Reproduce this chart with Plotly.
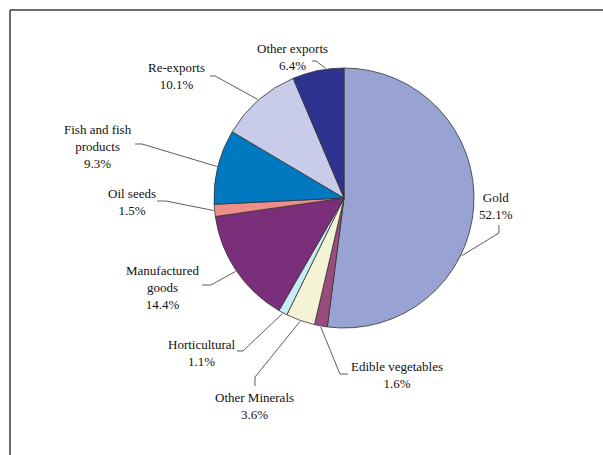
import math
import plotly.graph_objects as go

# Export composition (share of total exports, %)
categories = ["Gold", "Edible vegetables", "Other Minerals", "Horticultural",
              "Manufactured goods", "Oil seeds", "Fish and fish products",
              "Re-exports", "Other exports"]
shares = [52.1, 1.6, 3.6, 1.1, 14.4, 1.5, 9.3, 10.1, 6.4]
label_lines = [["Gold"], ["Edible vegetables"], ["Other Minerals"], ["Horticultural"],
               ["Manufactured", "goods"], ["Oil seeds"], ["Fish and fish", "products"],
               ["Re-exports"], ["Other exports"]]
colors = ["#99a3d3", "#9a4c7c", "#f5f3d6", "#c8ecf4", "#7b2f7a",
          "#ee8d8a", "#0079c1", "#c8cce8", "#2e3390"]

W, H = 603, 455
CX, CY, R = 344, 198, 130  # pie centre and radius in pixels

# label block centres (px) and leader-line elbows: (elbow point, tick end)
label_pos = [(496, 206), (397, 374.5), (254, 406), (202, 352.5), (162, 287),
             (132, 202), (98, 146), (176, 76), (292, 56.5)]
elbows = [((499, 233), (499, 225)), ((340, 374), (348, 374)), ((255, 377), (255, 386)),
          ((243, 351), (237, 351)), ((211, 285), (202, 285)), ((166, 201), (157, 201)),
          ((142, 144), (135, 144)), ((215, 76), (210, 76)), ((316, 61), (312, 61))]
# where along each slice the leader line touches the rim (0 = start, 1 = end)
anchor_frac = [0.62, 0.5, 0.5, 0.5, 0.5, 0.5, 0.5, 0.5, 0.65]


def px(x):
    return x / W


def py(y):
    return 1 - y / H


fig = go.Figure(go.Pie(
    labels=categories, values=shares, sort=False, direction="clockwise", rotation=0,
    marker=dict(colors=colors, line=dict(color="#333333", width=0.8)),
    textinfo="none", hoverinfo="label+percent",
    domain=dict(x=[px(CX - R), px(CX + R)], y=[py(CY + R), py(CY - R)]),
    showlegend=False,
))

total = sum(shares)
shapes = []
annotations = []
cum = 0.0
for name, v, lines, (lx, ly), (e1, e2), f in zip(categories, shares, label_lines,
                                                  label_pos, elbows, anchor_frac):
    ang = 2 * math.pi * (cum + v * f) / total
    cum += v
    ax = CX + (R + 1) * math.sin(ang)
    ay = CY - (R + 1) * math.cos(ang)
    path = "M {:.4f},{:.4f} L {:.4f},{:.4f} L {:.4f},{:.4f}".format(
        px(ax), py(ay), px(e1[0]), py(e1[1]), px(e2[0]), py(e2[1]))
    shapes.append(dict(type="path", xref="paper", yref="paper", path=path,
                       line=dict(color="#333333", width=0.8)))
    text = "<br>".join(lines + ["{:.1f}%".format(v)])
    annotations.append(dict(x=px(lx), y=py(ly), xref="paper", yref="paper",
                            text=text, showarrow=False, xanchor="center", yanchor="middle",
                            align="center",
                            font=dict(family="Liberation Serif", size=13, color="#111111")))

# chart-area frame (top and left edges)
shapes.append(dict(type="line", xref="paper", yref="paper", x0=px(10), y0=py(10),
                   x1=1.01, y1=py(10), line=dict(color="#3a3a3a", width=1.5)))
shapes.append(dict(type="line", xref="paper", yref="paper", x0=px(10), y0=py(10),
                   x1=px(10), y1=-0.01, line=dict(color="#3a3a3a", width=1.5)))

fig.update_layout(
    width=W, height=H, margin=dict(l=0, r=0, t=0, b=0),
    paper_bgcolor="white", plot_bgcolor="white",
    shapes=shapes, annotations=annotations,
)

fig.write_html("out.html")
